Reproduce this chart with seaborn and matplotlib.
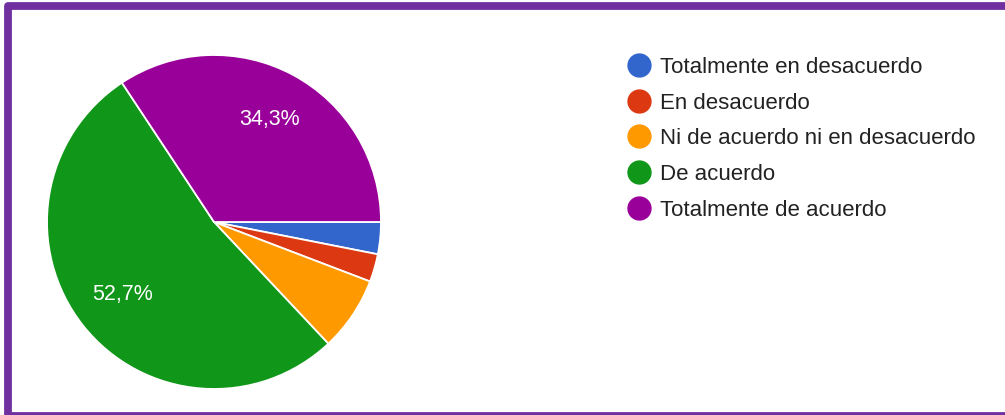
import matplotlib
matplotlib.use("Agg")
import matplotlib.pyplot as plt
import seaborn as sns
from matplotlib.lines import Line2D
from matplotlib.patches import Rectangle

# Datos
categorias = ["Totalmente en desacuerdo", "En desacuerdo",
              "Ni de acuerdo ni en desacuerdo", "De acuerdo",
              "Totalmente de acuerdo"]
porcentajes = [3.1, 2.7, 7.2, 52.7, 34.3]
colores = ["#3366CC", "#DC3912", "#FF9900", "#109618", "#990099"]

sns.set_theme(style="white")
plt.rcParams["font.family"] = ["Liberation Sans", "DejaVu Sans"]

fig = plt.figure(figsize=(10.05, 4.15), dpi=100)
fig.patch.set_facecolor("white")

ax = fig.add_axes([0.0468, 0.0627, 0.3323, 0.8048])


def etiqueta(p):
    # solo se etiquetan las porciones grandes, con coma decimal
    return f"{p:.1f}%".replace(".", ",") if p > 20 else ""


wedges, textos, autotextos = ax.pie(
    porcentajes, colors=colores, startangle=0, counterclock=False,
    autopct=etiqueta, pctdistance=0.70,
    wedgeprops=dict(edgecolor="white", linewidth=1.3),
    textprops=dict(color="white", fontsize=15.5))
ax.set_aspect("equal")
ax.set_xlim(-1.0, 1.0)
ax.set_ylim(-1.0, 1.0)

handles = [Line2D([], [], marker="o", linestyle="", markersize=16.5,
                  markerfacecolor=c, markeredgecolor=c) for c in colores]
fig.legend(handles, categorias, loc="upper left",
           bbox_to_anchor=(0.625, 0.863), frameon=False, borderpad=0,
           borderaxespad=0, handlelength=1.0, handletextpad=0.45,
           labelspacing=0.66, fontsize=16, labelcolor="#222222")

# borde morado (sin lado derecho)
fig.patches.append(Rectangle((8 / 1005, -1 / 415), 1.1, (415 - 6.5 + 1) / 415,
                             transform=fig.transFigure, fill=False,
                             edgecolor="#7030A0", linewidth=5.6,
                             joinstyle="round", figure=fig))

fig.savefig("out.png", dpi=100)
